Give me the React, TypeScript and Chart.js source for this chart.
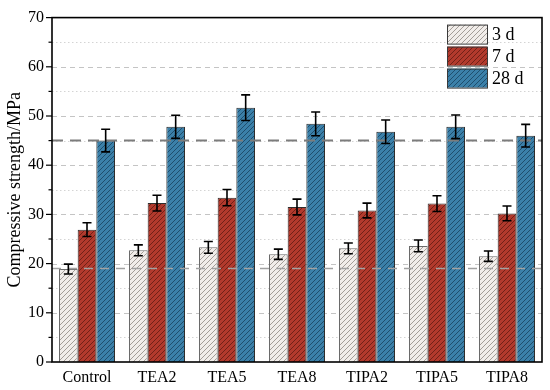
import React, { useEffect, useRef } from "react";
import { Chart, registerables } from "chart.js";

Chart.register(...registerables);

const categories = ["Control", "TEA2", "TEA5", "TEA8", "TIPA2", "TIPA5", "TIPA8"];
const seriesLabels = ["3 d", "7 d", "28 d"];
const values3d = [18.9, 22.7, 23.3, 21.9, 23.1, 23.6, 21.5];
const values7d = [26.9, 32.3, 33.4, 31.5, 30.8, 32.2, 30.2];
const values28d = [45.0, 47.8, 51.7, 48.4, 46.8, 47.8, 46.0];
const err3d = [1.0, 1.1, 1.2, 1.05, 1.1, 1.2, 1.05];
const err7d = [1.4, 1.6, 1.65, 1.6, 1.5, 1.6, 1.5];
const err28d = [2.3, 2.35, 2.6, 2.4, 2.4, 2.4, 2.3];
const refLines = [45, 19];
const yTicks = [0, 10, 20, 30, 40, 50, 60, 70];

const FONT = "'Liberation Serif', 'Times New Roman', serif";

function makePattern(bg: string, line: string) {
  const s = 5;
  const c = document.createElement("canvas");
  c.width = s;
  c.height = s;
  const g = c.getContext("2d")!;
  g.fillStyle = bg;
  g.fillRect(0, 0, s, s);
  g.strokeStyle = line;
  g.lineWidth = 0.9;
  g.beginPath();
  g.moveTo(0, s);
  g.lineTo(s, 0);
  g.moveTo(-1, 1);
  g.lineTo(1, -1);
  g.moveTo(s - 1, s + 1);
  g.lineTo(s + 1, s - 1);
  g.stroke();
  return g.createPattern(c, "repeat")!;
}

export default function App() {
  const ref = useRef<HTMLCanvasElement>(null);
  useEffect(() => {
    document.body.style.margin = "0";
    const canvas = ref.current!;
    const patterns = [
      makePattern("#f1edea", "#9a948f"),
      makePattern("#b23a2d", "#6a1d15"),
      makePattern("#3b80a9", "#1c4866"),
    ];
    const borders = ["#6a6a6a", "#2e2e2e", "#2e2e2e"];
    const allValues = [values3d, values7d, values28d];
    const allErr = [err3d, err7d, err28d];

    const decor = {
      id: "decor",
      beforeDatasetsDraw(chart: any) {
        const { ctx, chartArea: a, scales } = chart;
        const y = scales.y;
        ctx.save();
        for (let v = 5; v < 70; v += 5) {
          const py = Math.round(y.getPixelForValue(v)) + 0.5;
          ctx.beginPath();
          if (v % 10 === 0) {
            ctx.strokeStyle = "#c4c4c4";
            ctx.setLineDash([5, 4]);
          } else {
            ctx.strokeStyle = "#d4d4d4";
            ctx.setLineDash([1.5, 2.5]);
          }
          ctx.lineWidth = 1;
          ctx.moveTo(a.left, py);
          ctx.lineTo(a.right, py);
          ctx.stroke();
        }
        ctx.restore();
      },
      afterDatasetsDraw(chart: any) {
        const { ctx, chartArea: a, scales } = chart;
        const y = scales.y;
        ctx.save();
        refLines.forEach((v, i) => {
          const py = y.getPixelForValue(v);
          ctx.beginPath();
          ctx.strokeStyle = i === 0 ? "#7c7c7c" : "#a2a2a2";
          ctx.lineWidth = i === 0 ? 2 : 1.6;
          ctx.setLineDash(i === 0 ? [11, 7] : [9, 7]);
          ctx.moveTo(a.left, py);
          ctx.lineTo(a.right, py);
          ctx.stroke();
        });
        ctx.setLineDash([]);
        ctx.strokeStyle = "#000";
        ctx.lineWidth = 1.6;
        chart.data.datasets.forEach((ds: any, di: number) => {
          const meta = chart.getDatasetMeta(di);
          meta.data.forEach((bar: any, i: number) => {
            const v = allValues[di][i];
            const e = allErr[di][i];
            const x = bar.x;
            const t = y.getPixelForValue(v + e);
            const b = y.getPixelForValue(v - e);
            ctx.beginPath();
            ctx.moveTo(x, t);
            ctx.lineTo(x, b);
            ctx.moveTo(x - 4.5, t);
            ctx.lineTo(x + 4.5, t);
            ctx.moveTo(x - 4.5, b);
            ctx.lineTo(x + 4.5, b);
            ctx.stroke();
          });
        });
        ctx.restore();
      },
      afterDraw(chart: any) {
        const { ctx, chartArea: a, scales } = chart;
        const y = scales.y;
        ctx.save();
        ctx.strokeStyle = "#000";
        ctx.lineWidth = 1.6;
        ctx.strokeRect(a.left, a.top, a.right - a.left, a.bottom - a.top);
        ctx.lineWidth = 1.2;
        for (let v = 0; v <= 70; v += 5) {
          const py = y.getPixelForValue(v);
          const len = v % 10 === 0 ? 6 : 3.5;
          ctx.beginPath();
          ctx.moveTo(a.left - len, py);
          ctx.lineTo(a.left, py);
          ctx.stroke();
        }
        const lx = a.right - 95;
        chart.data.datasets.forEach((ds: any, i: number) => {
          const ly = a.top + 7 + i * 22;
          ctx.fillStyle = ds.backgroundColor;
          ctx.fillRect(lx, ly, 40, 19);
          ctx.strokeStyle = "#3a3a3a";
          ctx.lineWidth = 1;
          ctx.strokeRect(lx + 0.5, ly + 0.5, 40, 19);
          ctx.fillStyle = "#000";
          ctx.font = `18px ${FONT}`;
          ctx.textBaseline = "middle";
          ctx.textAlign = "left";
          ctx.fillText(ds.label, lx + 45, ly + 10.5);
        });
        ctx.restore();
      },
    };

    const chart = new Chart(canvas, {
      type: "bar",
      data: {
        labels: categories,
        datasets: seriesLabels.map((label, i) => ({
          label,
          data: allValues[i],
          backgroundColor: patterns[i] as any,
          borderColor: borders[i],
          borderWidth: 1,
          categoryPercentage: 0.8,
          barPercentage: 1,
        })),
      },
      options: {
        responsive: false,
        animation: false,
        layout: { padding: { left: 0, top: 13, right: 8, bottom: 0 } },
        plugins: { legend: { display: false }, tooltip: { enabled: false } },
        scales: {
          x: {
            grid: { display: false, drawTicks: false },
            border: { display: false },
            ticks: { color: "#000", font: { family: FONT, size: 16 }, padding: 6 },
            afterFit: (s: any) => {
              s.height = 28;
            },
          },
          y: {
            min: 0,
            max: 70,
            afterBuildTicks: (s: any) => {
              s.ticks = yTicks.map((v) => ({ value: v }));
            },
            grid: { display: false, drawTicks: false },
            border: { display: false },
            ticks: { color: "#000", font: { family: FONT, size: 16 }, padding: 8 },
            title: {
              display: true,
              text: "Compressive strength/MPa",
              color: "#000",
              font: { family: FONT, size: 18, lineHeight: 1.7 },
              padding: 0,
            },
            afterFit: (s: any) => {
              s.width = 52;
            },
          },
        },
      },
      plugins: [decor],
    });
    return () => chart.destroy();
  }, []);
  return (
    <div style={{ width: 550, height: 390 }}>
      <canvas ref={ref} width={550} height={390} style={{ display: "block" }} />
    </div>
  );
}
